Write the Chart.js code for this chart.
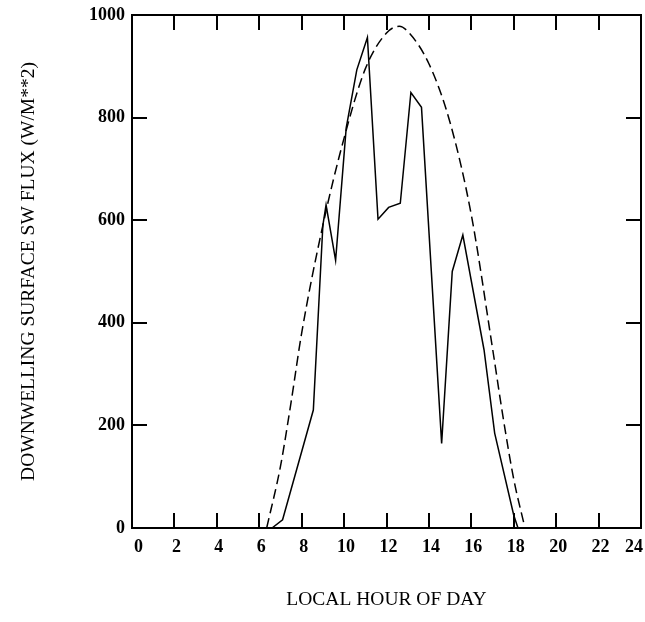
<!DOCTYPE html>
<html>
<head>
<meta charset="utf-8">
<script src="https://cdn.jsdelivr.net/npm/chart.js@4/dist/chart.umd.min.js"></script>
<style>
  body { margin: 0; background: #fff; overflow: hidden; }
</style>
</head>
<body>
<canvas id="fluxChart" width="645" height="622"></canvas>
<script>
// observed downwelling SW flux (solid) and clear-sky estimate (dashed)
const solidHours = [0, 6.6, 7.1, 8.55, 9.0, 9.15, 9.6, 10.1, 10.6, 11.1, 11.6, 12.1, 12.65, 13.15, 13.65, 14.6, 15.1, 15.6, 16.6, 17.1, 18.0, 18.2, 24];
const solidFlux  = [0, 0, 16, 230, 590, 630, 522, 780, 893, 956, 602, 625, 633, 849, 820, 165, 500, 571, 347, 185, 25, 0, 0];

const clearHours = [6.35, 7, 7.5, 8, 9, 10, 11, 12, 12.6, 13, 14, 15, 16, 17, 17.5, 18, 18.5];
const clearFlux  = [0, 120, 245, 380, 590, 760, 895, 965, 978, 968, 905, 790, 610, 350, 215, 95, 5];

const hourTicks = [0, 24, 2];     // min, max, step
const fluxTicks = [0, 1000, 200];

const toPoints = (xs, ys) => xs.map((x, i) => ({ x: x, y: ys[i] }));

Chart.defaults.font.family = '"Liberation Serif", "Times New Roman", serif';
Chart.defaults.color = '#000';

const tickFont = { size: 18, weight: 'bold' };
const titleFont = { size: 19.5 };

// inward tick marks on every side
const frameGrid = { drawOnChartArea: false, drawTicks: true, tickLength: -15, color: '#000', lineWidth: 2 };
const frameBorder = { display: true, color: '#000', width: 2 };

function fixSize(prop, size) {
    return function (scale) {
        scale[prop] = size;
        scale.paddingLeft = 0;
        scale.paddingRight = 0;
        scale.paddingTop = 0;
        scale.paddingBottom = 0;
    };
}

const plainNumber = v => String(v);

const ctx = document.getElementById('fluxChart').getContext('2d');
new Chart(ctx, {
    type: 'line',
    data: {
        datasets: [
            {
                label: 'observed',
                data: toPoints(solidHours, solidFlux),
                borderColor: '#000',
                borderWidth: 1.5,
                pointRadius: 0,
                fill: false,
                tension: 0
            },
            {
                label: 'clear sky',
                data: toPoints(clearHours, clearFlux),
                borderColor: '#000',
                borderWidth: 1.5,
                borderDash: [10, 5],
                pointRadius: 0,
                fill: false,
                cubicInterpolationMode: 'monotone'
            }
        ]
    },
    options: {
        responsive: false,
        animation: false,
        layout: { padding: 0 },
        plugins: { legend: { display: false }, tooltip: { enabled: false } },
        scales: {
            x: {
                type: 'linear',
                position: 'bottom',
                min: hourTicks[0],
                max: hourTicks[1],
                ticks: { stepSize: hourTicks[2], font: tickFont, padding: 24, align: 'inner', labelOffset: 2, maxRotation: 0, callback: plainNumber },
                grid: frameGrid,
                border: frameBorder,
                title: { display: true, text: 'LOCAL HOUR OF DAY', font: titleFont, padding: { top: 0, bottom: 10 } },
                afterFit: fixSize('height', 94)
            },
            x2: {
                type: 'linear',
                position: 'top',
                min: hourTicks[0],
                max: hourTicks[1],
                ticks: { stepSize: hourTicks[2], display: false },
                grid: frameGrid,
                border: frameBorder,
                afterFit: fixSize('height', 15)
            },
            y: {
                position: 'left',
                min: fluxTicks[0],
                max: fluxTicks[1],
                ticks: { stepSize: fluxTicks[2], font: tickFont, padding: 22, callback: plainNumber },
                grid: frameGrid,
                border: frameBorder,
                title: { display: true, text: 'DOWNWELLING SURFACE SW FLUX (W/M**2)', font: titleFont, padding: { top: 17, bottom: 0 } },
                afterFit: fixSize('width', 132)
            },
            y2: {
                position: 'right',
                min: fluxTicks[0],
                max: fluxTicks[1],
                ticks: { stepSize: fluxTicks[2], display: false },
                grid: frameGrid,
                border: frameBorder,
                afterFit: fixSize('width', 4)
            }
        }
    }
});
</script>
</body>
</html>
